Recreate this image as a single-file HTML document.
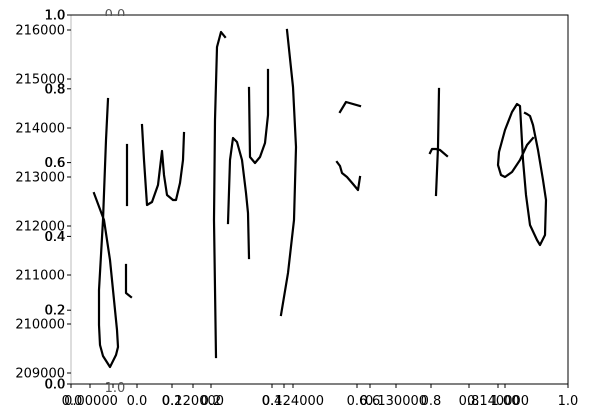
<!DOCTYPE html>
<html><head><meta charset="utf-8"><style>
html,body{margin:0;padding:0;background:#fff;}
svg{display:block;font-family:"DejaVu Sans","Liberation Sans",sans-serif;font-size:13px;}
</style></head><body>
<svg id="chart" width="589" height="418" viewBox="0 0 589 418" xmlns="http://www.w3.org/2000/svg">
<rect x="0" y="0" width="589" height="418" fill="#fff"/>
<g id="series"></g>
<g id="axes"></g>
</svg>
<script>
const yTicks = [209000,210000,211000,212000,213000,214000,215000,216000];
const yTickLabels = ["209000","210000","211000","212000","213000","214000","215000","216000"];
const unitTicks = [0,0.2,0.4,0.6,0.8,1.0];
const unitTickLabels = ["0.0","0.2","0.4","0.6","0.8","1.0"];
const xTickPositions = [0,19,42,66,101,122,140,201,213,222,286,299,325,360,398,427,434,497];
const xTickLabels = [
  ["0.0",1],["0.00000",20],["0.0",66],["0.2",101],["0.120000",122],["0.2",140],
  ["0.4",201],["0.124000",222],["0.6",286],["0.6",299],["0.130000",325],["0.8",360],
  ["0.8",398],["0.140000",427],["1.00",434],["1.0",497]
];
const seriesA_x = [23,33,39,43,46,47,45,39,32,29,28,28,32,35,37];
const seriesA_y = [212670,212122,211306,210490,209878,209530,209367,209122,209347,209571,209980,210694,212122,213755,214592];
const seriesB_x = [56,56];
const seriesB_y = [213653,212429];
const seriesB2_x = [55,55,60];
const seriesB2_y = [211204,210633,210551];
const seriesC_x = [71,73,76,81,87,91,93,96,102,105,109,112,113];
const seriesC_y = [214061,213347,212429,212490,212837,213531,213041,212633,212531,212531,212878,213347,213898];
const seriesD_x = [145,143,144,146,150,154];
const seriesD_y = [209327,212122,214163,215653,215959,215857];
const seriesE_x = [157,159,162,166,171,175,177,178];
const seriesE_y = [212061,213347,213796,213714,213347,212673,212265,211347];
const seriesF_x = [178,179,184,189,194,197,197];
const seriesF_y = [214816,213408,213286,213408,213694,214265,215184];
const seriesG_x = [216,222,225,223,217,210];
const seriesG_y = [216000,214837,213612,212122,211041,210184];
const seriesH_x = [269,275,289];
const seriesH_y = [214327,214531,214449];
const seriesI_x = [266,269,271,276,282,287,289];
const seriesI_y = [213306,213224,213082,213000,212857,212735,213000];
const seriesJ_x = [368,367,365];
const seriesJ_y = [214796,213612,212633];
const seriesJ2_x = [359,361,365,369,376];
const seriesJ2_y = [213490,213571,213571,213551,213429];
const seriesK_x = [454,456,459,462,467,472,475,474,469,466,459,455,452,449,446,441,434,428,427,430,434,441,449,456,462];
const seriesK_y = [214306,214286,214245,214061,213551,212939,212531,211816,211612,211714,212020,212633,213347,214449,214490,214327,213959,213510,213245,213041,213000,213102,213347,213653,213796];

const L=71,R=568,T=15,B=384;
function xs(v){return L+v;}
function ys(v){return 30+(216000-v)*49/1000;}
function us(v){return B-(B-T)*v;}
const NS="http://www.w3.org/2000/svg";
const sg=document.getElementById('series');
const ag=document.getElementById('axes');
function mk(tag,attrs,parent){const e=document.createElementNS(NS,tag);for(const k in attrs)e.setAttribute(k,attrs[k]);parent.appendChild(e);return e;}

const allSeries=[[seriesA_x,seriesA_y,'series-a'],[seriesB_x,seriesB_y,'series-b'],[seriesB2_x,seriesB2_y,'series-b2'],[seriesC_x,seriesC_y,'series-c'],[seriesD_x,seriesD_y,'series-d'],[seriesE_x,seriesE_y,'series-e'],[seriesF_x,seriesF_y,'series-f'],[seriesG_x,seriesG_y,'series-g'],[seriesH_x,seriesH_y,'series-h'],[seriesI_x,seriesI_y,'series-i'],[seriesJ_x,seriesJ_y,'series-j'],[seriesJ2_x,seriesJ2_y,'series-j2'],[seriesK_x,seriesK_y,'series-k']];
allSeries.forEach(s=>{
  const pts=s[0].map((x,i)=>xs(x).toFixed(1)+','+ys(s[1][i]).toFixed(1)).join(' ');
  const p=mk('polyline',{points:pts,fill:'none',stroke:'#000','stroke-width':'2.2','stroke-linejoin':'round','stroke-linecap':'square'},sg);
  
  
});

// spines
let e;
e=mk('line',{x1:L,y1:T,x2:L,y2:B,stroke:'#bbb','stroke-width':1},ag);


e=mk('path',{d:`M${L} ${T}H${R}V${B}H${L}`,fill:'none',stroke:'#000','stroke-width':1},ag);



yTicks.forEach((v,i)=>{
  const y=ys(v);
  mk('line',{x1:L-4,y1:y,x2:L,y2:y,stroke:'#000','stroke-width':1},ag);
  const t=mk('text',{x:L-6,y:y+4.5,'text-anchor':'end',fill:'#000'},ag);
  t.textContent=yTickLabels[i];
  
  
});
unitTicks.forEach((v,i)=>{
  const y=us(v);
  mk('line',{x1:L-4,y1:y,x2:L,y2:y,stroke:'#000','stroke-width':1},ag);
  for(let k=0;k<2;k++){
    const t=mk('text',{x:L-6+k*0.5,y:y+4.5,'text-anchor':'end',fill:'#000'},ag);
    t.textContent=unitTickLabels[i];
    
    
  }
});
xTickPositions.forEach(v=>{
  mk('line',{x1:xs(v),y1:B,x2:xs(v),y2:B+4,stroke:'#000','stroke-width':1},ag);
});
xTickLabels.forEach(d=>{
  const t=mk('text',{x:xs(d[1]),y:B+21,'text-anchor':'middle',fill:'#000'},ag);
  t.textContent=d[0];
  
  
});
// clipped overlapping labels
e=mk('text',{x:115,y:392,'text-anchor':'middle',fill:'#555'},ag);
e.textContent='1.0';


e=mk('text',{x:115,y:19,'text-anchor':'middle',fill:'#555'},ag);
e.textContent='0.0';


mk('rect',{x:L+1,y:T+1,width:R-L-2,height:4,fill:'#fff'},ag);
mk('rect',{x:L+1,y:B-1-6,width:0,height:0,fill:'#fff'},ag);
</script>
</body></html>
